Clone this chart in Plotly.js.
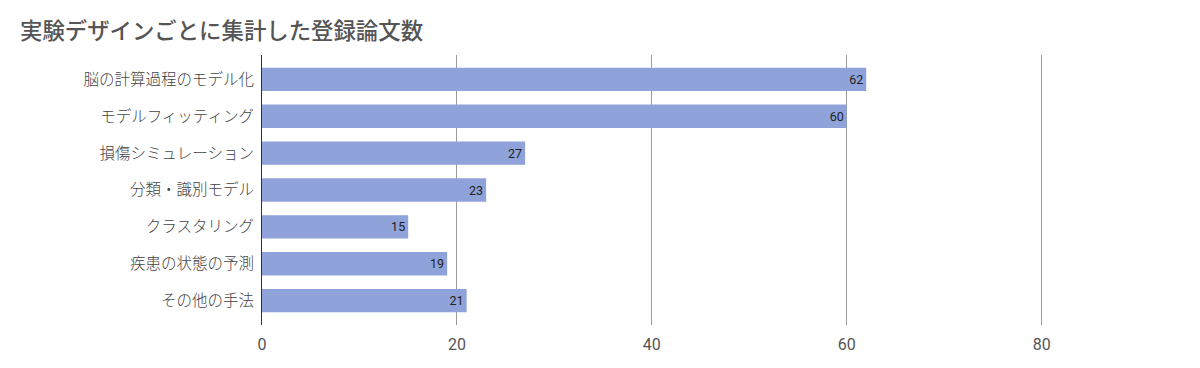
<!DOCTYPE html>
<html>
<head>
<meta charset="utf-8">
<script src="https://cdn.plot.ly/plotly-3.0.1.min.js"></script>
<style>html,body{margin:0;padding:0;background:#fff;}#chart{width:1200px;height:368px;}</style>
</head>
<body>
<div id="chart"></div>
<script>
const categories = ["脳の計算過程のモデル化","モデルフィッティング","損傷シミュレーション","分類・識別モデル","クラスタリング","疾患の状態の予測","その他の手法"];
const counts = [62, 60, 27, 23, 15, 19, 21];
const tickValues = [0, 20, 40, 60, 80];

const trace = {
  type: 'bar',
  orientation: 'h',
  y: categories,
  x: counts,
  text: counts.map(String),
  textposition: 'inside',
  insidetextanchor: 'end',
  textfont: {family: 'Roboto, "Noto Sans CJK JP", sans-serif', size: 12.5, color: '#222'},
  marker: {color: '#8FA2DA'},
  hoverinfo: 'none',
  cliponaxis: false
};

const layout = {
  width: 1200, height: 368,
  margin: {l: 262, r: 20, t: 55, b: 43},
  paper_bgcolor: '#fff', plot_bgcolor: '#fff',
  bargap: 0.365,
  showlegend: false,
  title: {
    text: '実験デザインごとに集計した登録論文数',
    x: 20 / 1200, xanchor: 'left', xref: 'container',
    y: 1 - 31.5 / 368, yanchor: 'middle', yref: 'container',
    font: {family: '"Noto Sans CJK JP", sans-serif', size: 22.4, color: '#555', weight: 500}
  },
  xaxis: {
    range: [0, 94.2],
    tickvals: tickValues,
    ticktext: tickValues.map(String),
    showgrid: true, gridcolor: '#9a9a9a', gridwidth: 1,
    zeroline: false, showline: false,
    ticks: '', ticklabelstandoff: 8,
    tickfont: {family: 'Roboto, sans-serif', size: 16, color: '#555'},
    fixedrange: true
  },
  yaxis: {
    autorange: false,
    range: [6.66, -0.66],
    type: 'category',
    showgrid: false, zeroline: false,
    showline: true, linecolor: '#333', linewidth: 1,
    ticks: '', ticklabelstandoff: 4,
    tickfont: {family: '"Noto Sans CJK JP", sans-serif', size: 15.5, color: '#444', weight: 300},
    fixedrange: true
  }
};

Plotly.newPlot('chart', [trace], layout, {displayModeBar: false, staticPlot: true});
</script>
</body>
</html>
